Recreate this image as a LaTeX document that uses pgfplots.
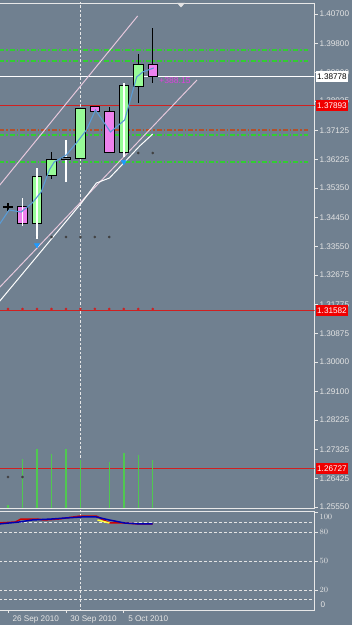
\documentclass[border=0pt]{standalone}
\usepackage{fontspec}
\setmainfont{Liberation Sans}
\usepackage{pgfplots}
\pgfplotsset{compat=1.18}
\definecolor{bg}{HTML}{708090}
\definecolor{lbl}{HTML}{E4E4E4}
\definecolor{frame}{HTML}{E8E8E8}
\definecolor{pgreen}{HTML}{98FB98}
\definecolor{pviolet}{HTML}{EE82EE}
\definecolor{lgreen}{HTML}{32CD32}
\definecolor{vgreen}{HTML}{50C850}
\definecolor{rline}{HTML}{D02020}
\definecolor{rbox}{HTML}{F00000}
\definecolor{brown}{HTML}{B4502A}
\definecolor{mablue}{HTML}{5A9BD5}
\definecolor{trend}{HTML}{E6C8DC}
\definecolor{arrowblue}{HTML}{1E9BFF}
\definecolor{mag}{HTML}{E040E0}
\definecolor{stblue}{HTML}{0000B0}
\definecolor{stred}{HTML}{D00000}
\definecolor{styel}{HTML}{FFFF40}
\newcommand\lab{\fontsize{8.2}{9}\selectfont}
\begin{document}
\begin{tikzpicture}
\useasboundingbox (0,0) rectangle (352bp,625bp);
\fill[bg] (0,0) rectangle (352bp,625bp);
\begin{axis}[
  at={(-1bp,622bp)}, anchor=north west, scale only axis,
  width=315.5bp, height=505bp,
  xmin=-0.625, xmax=21.18, ymin=1.25519, ymax=1.41038,
  clip mode=individual,
  axis line style={frame, line width=0.9bp},
  xtick=\empty,
  ytick={1.407,1.398,1.389,1.38025,1.37125,1.36225,1.3535,1.3445,1.3355,1.32675,1.31775,1.30875,1.3,1.291,1.28225,1.27325,1.26425,1.2555},
  yticklabels={1.40700,1.39800,1.38900,1.38025,1.37125,1.36225,1.35350,1.34450,1.33550,1.32675,1.31775,1.30875,1.30000,1.29100,1.28225,1.27325,1.26425,1.25550},
  ytick pos=right, yticklabel pos=right,
  tick align=outside, major tick length=3bp,
  tick style={frame, line width=0.6bp},
  yticklabel style={font=\lab, text=lbl, xshift=-1.5bp},
]
% horizontal levels
\addplot[lgreen, line width=1.2bp, dash pattern=on 5bp off 2bp on 1.5bp off 2bp] coordinates {(-0.625,1.39594) (20.76,1.39594)};
\addplot[lgreen, line width=1.2bp, dash pattern=on 5bp off 2bp on 1.5bp off 2bp] coordinates {(-0.625,1.39256) (20.76,1.39256)};
\addplot[brown, line width=1.3bp, dash pattern=on 5bp off 2bp on 1.5bp off 2bp] coordinates {(-0.625,1.37136) (20.76,1.37136)};
\addplot[lgreen, line width=1.2bp, dash pattern=on 5bp off 2bp on 1.5bp off 2bp] coordinates {(-0.625,1.36982) (20.76,1.36982)};
\addplot[lgreen, line width=1.6bp, dash pattern=on 5bp off 2bp on 1.5bp off 2bp] coordinates {(-0.625,1.36152) (20.76,1.36152)};
\addplot[white, line width=1bp] coordinates {(-0.625,1.38778) (21.18,1.38778)};
\addplot[rline, line width=1.3bp] coordinates {(-0.625,1.37893) (21.18,1.37893)};
\addplot[rline, line width=1.3bp] coordinates {(-0.625,1.31582) (21.18,1.31582)};
\addplot[rline, line width=1.3bp] coordinates {(-0.625,1.26727) (21.18,1.26727)};
% vertical separator
\addplot[frame, line width=1bp, dash pattern=on 2.5bp off 2bp] coordinates {(5.035,1.2540) (5.035,1.4120)};
% volume-like green lines
\addplot[vgreen, line width=1.5bp, unbounded coords=jump] coordinates {
 (0,1.2550) (0,1.25612) (0,nan)
 (1,1.2550) (1,1.27025) (1,nan)
 (2,1.2550) (2,1.27332) (2,nan)
 (3,1.2550) (3,1.27179) (3,nan)
 (4,1.2550) (4,1.27332) (4,nan)
 (5,1.2550) (5,1.26994) (5,nan)
 (7,1.2550) (7,1.26933) (7,nan)
 (8,1.2550) (8,1.27210) (8,nan)
 (9,1.2550) (9,1.27148) (9,nan)
 (10,1.2550) (10,1.26994)};
% channel lines
\addplot[trend, line width=1bp] coordinates {(-0.625,1.35414) (8.958,1.40639)};
\addplot[trend, line width=1bp] coordinates {(-0.625,1.3228) (13.06,1.38672)};
\addplot[white, line width=1bp] coordinates {(-0.625,1.3185) (5.07,1.34892) (6.11,1.35507) (7.01,1.35660) (8.06,1.36152) (9.10,1.36644) (10.0,1.37012)};
% dots
\addplot[only marks, mark=*, mark size=1.1bp, color=black!75] coordinates {(2,1.33847) (3,1.33847) (4,1.33847) (5,1.33847) (6,1.33847) (7,1.33847) (9,1.36429) (10,1.36429) (0,1.26472) (1,1.26472)};
\addplot[only marks, mark=*, mark size=1.1bp, color=rline] coordinates {(0,1.31635) (1,1.31635) (2,1.31635) (3,1.31635) (4,1.31635) (5,1.31635) (6,1.31635) (7,1.31635) (8,1.31635) (9,1.31635) (10,1.31635)};
% black wicks and doji cross
\addplot[black, line width=1.1bp, unbounded coords=jump] coordinates {
 (0,1.34646) (0,1.34892) (0,nan) (-0.35,1.34769) (0.35,1.34769) (0.35,nan)
 (3,1.35630) (3,1.36459) (3,nan)
 (7,1.36429) (7,1.37842) (7,nan)
 (9,1.37965) (9,1.39471) (9,nan)
 (10,1.38580) (10,1.40270)};
% bodies
\addplot[draw=black, fill=pviolet, line width=0.9bp] coordinates {(0.67,1.34800) (1.33,1.34800) (1.33,1.34277) (0.67,1.34277)} -- cycle;
\addplot[draw=black, fill=pgreen, line width=0.9bp] coordinates {(1.67,1.34277) (2.33,1.34277) (2.33,1.35722) (1.67,1.35722)} -- cycle;
\addplot[draw=black, fill=pgreen, line width=0.9bp] coordinates {(2.67,1.35752) (3.33,1.35752) (3.33,1.36244) (2.67,1.36244)} -- cycle;
\addplot[draw=black, fill=pgreen, line width=0.9bp] coordinates {(4.67,1.36275) (5.33,1.36275) (5.33,1.37811) (4.67,1.37811)} -- cycle;
\addplot[draw=black, fill=pviolet, line width=0.9bp] coordinates {(5.67,1.37873) (6.33,1.37873) (6.33,1.37719) (5.67,1.37719)} -- cycle;
\addplot[draw=black, fill=pviolet, line width=0.9bp] coordinates {(6.67,1.37719) (7.33,1.37719) (7.33,1.36459) (6.67,1.36459)} -- cycle;
\addplot[draw=black, fill=pgreen, line width=0.9bp] coordinates {(7.67,1.36459) (8.33,1.36459) (8.33,1.38518) (7.67,1.38518)} -- cycle;
\addplot[draw=black, fill=pgreen, line width=0.9bp] coordinates {(8.67,1.38487) (9.33,1.38487) (9.33,1.39163) (8.67,1.39163)} -- cycle;
\addplot[draw=black, fill=pviolet, line width=0.9bp] coordinates {(9.67,1.39163) (10.33,1.39163) (10.33,1.38778) (9.67,1.38778)} -- cycle;
% white high-low lines
\addplot[white, line width=1.5bp, unbounded coords=jump] coordinates {
 (1,1.34185) (1,1.35046) (1,nan)
 (2,1.33786) (2,1.35968) (2,nan)
 (4,1.35537) (4,1.36828) (4,nan)
 (8,1.36306) (8,1.38580)};
\addplot[draw=black, fill=bg, line width=0.9bp] coordinates {(3.70,1.36220) (4.30,1.36220) (4.30,1.36300) (3.70,1.36300)} -- cycle;
% moving average
\addplot[mablue, line width=1.1bp] coordinates {(-0.625,1.34216) (0.07,1.34677) (0.9,1.34615) (1.67,1.34892) (2.29,1.35230) (2.85,1.35906) (3.19,1.36152) (4.03,1.36367) (4.72,1.36736) (5.42,1.37135) (6.04,1.3775) (7.08,1.37074) (8.06,1.37443) (8.89,1.38764) (9.31,1.38918) (10.07,1.39041)};
% fractal arrows
\addplot[only marks, mark=triangle*, mark size=3bp, mark options={rotate=180, fill=arrowblue, draw=arrowblue}] coordinates {(2,1.33601) (8,1.36152)};
\node[anchor=west, text=mag, font=\fontsize{8.6}{9}\selectfont, inner sep=0pt] at (axis cs:10.45,1.38641) {+388.15};
\coordinate (Lw) at (axis cs:21.18,1.38778);
\coordinate (La) at (axis cs:21.18,1.37893);
\coordinate (Lb) at (axis cs:21.18,1.31582);
\coordinate (Lc) at (axis cs:21.18,1.26727);
\end{axis}
\begin{axis}[
  at={(-1bp,114bp)}, anchor=north west, scale only axis,
  width=315.5bp, height=99bp,
  xmin=-0.625, xmax=21.18, ymin=-0.7, ymax=101.7,
  clip mode=individual,
  axis line style={frame, line width=0.9bp},
  ytick={20,50,80}, extra y ticks={100},
  extra y tick style={yticklabel style={yshift=-4bp}},
  ytick pos=right, yticklabel pos=right,
  xtick={0,4,8}, xticklabels={26 Sep 2010,30 Sep 2010,5 Oct 2010},
  xtick pos=left,
  tick align=outside, major tick length=3bp,
  tick style={frame, line width=0.6bp},
  yticklabel style={font=\lab, text=lbl, xshift=-1.5bp},
  xticklabel style={font=\lab, text=lbl, anchor=north west, xshift=1bp, yshift=1bp},
]
\addplot[lbl, line width=0.8bp, dash pattern=on 3bp off 2bp] coordinates {(-0.625,90) (21.18,90)};
\addplot[lbl, line width=0.8bp, dash pattern=on 3bp off 2bp] coordinates {(-0.625,80) (21.18,80)};
\addplot[lbl, line width=0.8bp, dash pattern=on 3bp off 2bp] coordinates {(-0.625,50) (21.18,50)};
\addplot[lbl, line width=0.8bp, dash pattern=on 3bp off 2bp] coordinates {(-0.625,20) (21.18,20)};
\addplot[lbl, line width=0.8bp, dash pattern=on 3bp off 2bp] coordinates {(-0.625,10) (21.18,10)};
\addplot[frame, line width=1bp, dash pattern=on 2.5bp off 2bp] coordinates {(5.035,-2) (5.035,104)};
\addplot[stred, line width=1.5bp] coordinates {(-0.625,89.3) (0.5,90.3) (0.9,93.4) (2,93.4) (2.5,92.4) (3.5,93.4) (4.5,95.5) (5,96.5) (6.1,96.5) (7,89.3) (8,89.3) (9,88.3) (10,88.3)};
\addplot[styel, line width=1.5bp] coordinates {(6.18,92.4) (7.01,89.3)};
\addplot[stblue, line width=1.5bp] coordinates {(-0.625,88.3) (0.76,90.3) (1.67,92.4) (3,93.4) (4,94.5) (5.07,95.5) (6.1,95.5) (7,92.4) (8.06,89.3) (9.1,88.3) (10,88.3)};
\node[anchor=west, text=lbl, font=\lab] at ([xshift=2.5bp,yshift=5bp]axis cs:21.18,0) {0};
\end{axis}
\node[anchor=west, fill=white, text=black, font=\lab, inner xsep=1.5bp, inner ysep=1bp, minimum height=11bp] at ([xshift=1bp]Lw) {1.38778};
\node[anchor=west, fill=rbox, text=white, font=\lab, inner xsep=1.5bp, inner ysep=1bp, minimum height=11bp] at ([xshift=1bp]La) {1.37893};
\node[anchor=west, fill=rbox, text=white, font=\lab, inner xsep=1.5bp, inner ysep=1bp, minimum height=11bp] at ([xshift=1bp]Lb) {1.31582};
\node[anchor=west, fill=rbox, text=white, font=\lab, inner xsep=1.5bp, inner ysep=1bp, minimum height=11bp] at ([xshift=1bp]Lc) {1.26727};
\fill[lbl] (177bp,622bp) -- (185bp,622bp) -- (181bp,617.5bp) -- cycle;
\end{tikzpicture}
\end{document}
